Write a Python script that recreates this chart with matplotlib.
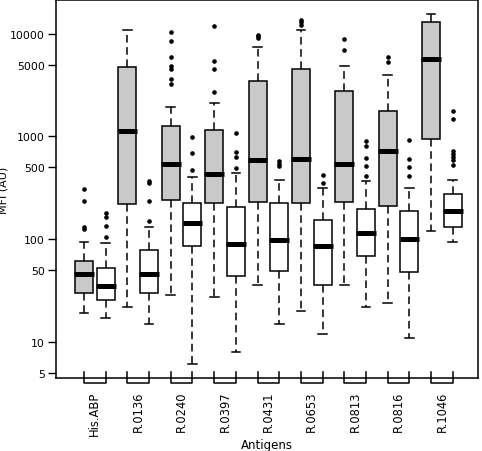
import numpy as np
import matplotlib
matplotlib.use('Agg')
from matplotlib import pyplot as plt
import matplotlib.transforms as mtransforms

antigens = ['His.ABP', 'R.0136', 'R.0240', 'R.0397', 'R.0431',
            'R.0653', 'R.0813', 'R.0816', 'R.1046']

# two boxes per antigen (grey then white)
whislo = [18.9, 17.1, 21.9, 14.8, 28.7, 6.0, 27.4, 7.94, 35.9,
          14.9, 19.9, 11.9, 35.7, 21.6, 24.0, 10.9, 120, 93]
q1 = [29.6, 25.7, 217, 29.8, 242, 85.5, 224, 43.4, 228,
      48.5, 226, 35.4, 229, 67.9, 210, 48.1, 942, 130]
med = [45.4, 34.9, 1128, 45.6, 542, 142, 433, 89.5, 589,
       98.6, 598, 85, 535, 115, 725, 100, 5670, 189]
q3 = [61.5, 52.6, 4707, 78.2, 1262, 224, 1161, 204, 3487,
      224, 4500, 152, 2767, 198, 1754, 189, 13000, 275]
whishi = [93, 91.5, 10870, 131, 1946, 405, 2099, 443, 7470,
          373, 10870, 316, 4813, 370, 3960, 312, 15560, 378]
fliers = [
    [125, 130, 236, 307],
    [105, 133, 165, 179],
    [],
    [150, 235, 350, 368],
    [3260, 3620, 4500, 4845, 5970, 8490, 10450],
    [470, 684, 979],
    [2705, 4560, 5460, 11800],
    [489, 634, 709, 1078],
    [9080, 9400, 9780],
    [518, 540, 572],
    [12230, 12900, 13700],
    [351, 424],
    [6940, 8880],
    [408, 518, 620, 811, 901],
    [5340, 5890],
    [414, 500, 602, 922],
    [],
    [523, 585, 625, 668, 716, 1476, 1754],
]

yticks = [5, 10, 50, 100, 500, 1000, 5000, 10000]

stats = []
for i in range(len(med)):
    stats.append(dict(med=med[i], q1=q1[i], q3=q3[i], whislo=whislo[i],
                      whishi=whishi[i], fliers=np.array(fliers[i], dtype=float)))

positions = np.arange(1, len(med) + 1)

fig = plt.figure(figsize=(4.82, 4.52), dpi=100)
ax = fig.add_axes([56 / 482, 1 - 379 / 452, 422 / 482, 378 / 452])

bp = ax.bxp(stats, positions=positions, widths=0.83, patch_artist=True,
            capwidths=0.4, showfliers=True,
            boxprops=dict(linewidth=1.1, edgecolor='black'),
            whiskerprops=dict(linewidth=1.1, linestyle=(0, (5, 3)), color='black'),
            capprops=dict(linewidth=1.1, color='black'),
            medianprops=dict(linewidth=3.6, color='black', solid_capstyle='butt'),
            flierprops=dict(marker='o', markersize=2.3, markerfacecolor='black',
                            markeredgecolor='black', linestyle='none'))
for i, box in enumerate(bp['boxes']):
    box.set_facecolor('#c9c9c9' if i % 2 == 0 else 'white')
for m in bp['medians']:
    x = m.get_xdata()
    m.set_xdata([x[0] - 0.04, x[1] + 0.04])

ax.set_yscale('log')
ax.set_ylim(4.43, 21290)
ax.set_xlim(-0.29, 19.16)

ax.set_yticks(yticks)
ax.set_yticklabels([str(t) for t in yticks])
ax.minorticks_off()
ax.tick_params(axis='y', length=6, width=1.0, pad=2, labelsize=7.8)

# bracket style x ticks under each pair
pair_centers = positions[::2] + 0.5
ax.set_xticks(pair_centers)
ax.set_xticklabels(antigens, rotation=90, fontsize=8.3)
ax.tick_params(axis='x', length=0, pad=9)
trans = mtransforms.blended_transform_factory(ax.transData, ax.transAxes)
for k in range(len(antigens)):
    a, b = positions[2 * k], positions[2 * k + 1]
    ax.plot([a, a, b, b], [0.017, -0.013, -0.013, 0.017], color='black',
            lw=1.1, transform=trans, clip_on=False)

for s in ax.spines.values():
    s.set_linewidth(1.1)

ax.set_ylabel('MFI (AU)', fontsize=8)
ax.yaxis.set_label_coords(-0.112, 0.5)
ax.set_xlabel('Antigens', fontsize=8.5, labelpad=2)

plt.savefig('out.png', dpi=100)
